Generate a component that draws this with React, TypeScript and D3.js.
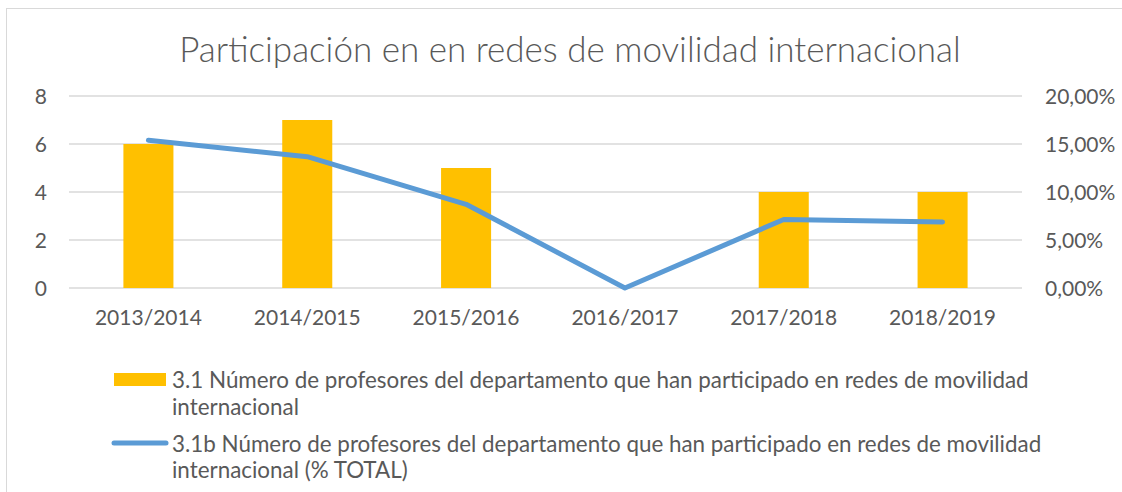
import React from 'react';
import * as d3 from 'd3';

const categories = ['2013/2014', '2014/2015', '2015/2016', '2016/2017', '2017/2018', '2018/2019'];
const profesores = [6, 7, 5, 0, 4, 4];
const porcentaje = [0.1538, 0.1368, 0.0872, 0, 0.0714, 0.0688];
const leftTicks = [0, 2, 4, 6, 8];
const rightTicks = [0, 0.05, 0.1, 0.15, 0.2];

const TITLE = 'Participación en en redes de movilidad internacional';
const LEGEND_BAR = [
  '3.1 Número de profesores del departamento que han participado en redes de movilidad',
  'internacional',
];
const LEGEND_LINE = [
  '3.1b Número de profesores del departamento que han participado en redes de movilidad',
  'internacional (% TOTAL)',
];

const W = 1122;
const H = 492;
const M = { left: 69, right: 1022, top: 96, bottom: 288 };
const FONT = 'Lato, Carlito, Calibri, sans-serif';
const TEXT = '#595959';
const GRID = '#D9D9D9';
const BAR = '#FFC000';
const LINE = '#5B9BD5';

const fmtPct = (v: number) => d3.format('.2f')(v * 100).replace('.', ',') + '%';

export default function App() {
  const x = d3.scaleBand().domain(categories).range([M.left, M.right]).paddingInner(0.685).paddingOuter(0.3425);
  const xc = (c: string) => (x(c) as number) + x.bandwidth() / 2;
  const yL = d3.scaleLinear().domain([0, 8]).range([M.bottom, M.top]);
  const yR = d3.scaleLinear().domain([0, 0.2]).range([M.bottom, M.top]);

  const line = d3
    .line<number>()
    .x((_, i) => xc(categories[i]))
    .y((d) => yR(d));

  return (
    <svg
      width={W}
      height={H}
      style={{ position: 'absolute', left: 0, top: 0, background: '#fff' }}
      fontFamily={FONT}
    >
      <rect x={6.5} y={8.5} width={W + 10} height={H + 10} fill="#fff" stroke={GRID} strokeWidth={1} />

      <text x={570} y={62} textAnchor="middle" fontSize={35} fontWeight={300} fill={TEXT}>
        {TITLE}
      </text>

      <g>
        {leftTicks.map((t) => (
          <line key={t} x1={M.left} x2={M.right} y1={yL(t)} y2={yL(t)} stroke={GRID} strokeWidth={1.3} />
        ))}
      </g>

      <g>
        {profesores.map((v, i) => (
          <rect
            key={categories[i]}
            x={x(categories[i])}
            y={yL(v)}
            width={x.bandwidth()}
            height={yL(0) - yL(v)}
            fill={BAR}
          />
        ))}
      </g>

      <path d={line(porcentaje) || ''} fill="none" stroke={LINE} strokeWidth={5} strokeLinecap="round" strokeLinejoin="round" />

      <g fontSize={21} fill={TEXT}>
        {leftTicks.map((t) => (
          <text key={t} x={47} y={yL(t)} dy="0.36em" textAnchor="end">
            {t}
          </text>
        ))}
        {rightTicks.map((t) => (
          <text key={t} x={1045} y={yR(t)} dy="0.36em" textAnchor="start">
            {fmtPct(t)}
          </text>
        ))}
        {categories.map((c) => (
          <text key={c} x={xc(c)} y={325} textAnchor="middle">
            {c}
          </text>
        ))}
      </g>

      <g fontSize={22.4} fill={TEXT}>
        <rect x={114} y={373} width={52} height={13} fill={BAR} />
        <text x={172} y={388}>{LEGEND_BAR[0]}</text>
        <text x={172} y={415}>{LEGEND_BAR[1]}</text>
        <line x1={114} x2={166} y1={443} y2={443} stroke={LINE} strokeWidth={5} strokeLinecap="round" />
        <text x={172} y={452}>{LEGEND_LINE[0]}</text>
        <text x={172} y={478}>{LEGEND_LINE[1]}</text>
      </g>
    </svg>
  );
}
